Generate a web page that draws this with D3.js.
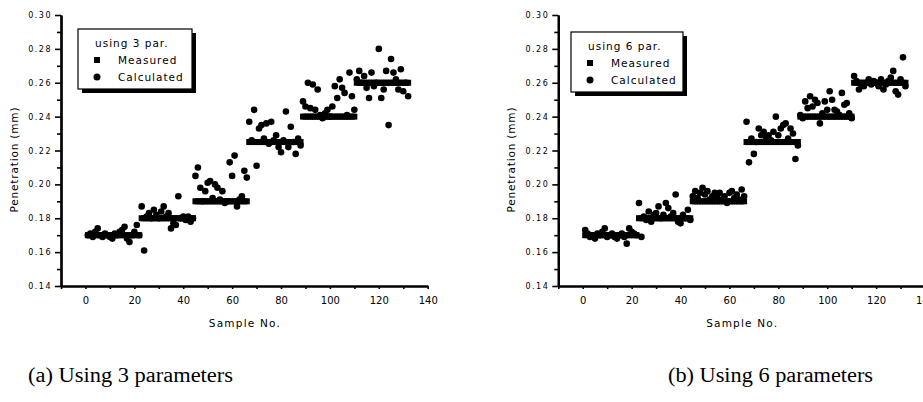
<!DOCTYPE html>
<html>
<head>
<meta charset="utf-8">
<script src="https://cdn.jsdelivr.net/npm/d3@7"></script>
<style>
body { margin: 0; background: #fff; }
</style>
</head>
<body>
<script>
// measured penetration, 6 blocks of 22 samples
var measured = [
	0.17,0.17,0.17,0.17,0.17,0.17,0.17,0.17,0.17,0.17,0.17,0.17,0.17,0.17,0.17,0.17,0.17,0.17,0.17,0.17,0.17,0.17,
	0.18,0.18,0.18,0.18,0.18,0.18,0.18,0.18,0.18,0.18,0.18,0.18,0.18,0.18,0.18,0.18,0.18,0.18,0.18,0.18,0.18,0.18,
	0.19,0.19,0.19,0.19,0.19,0.19,0.19,0.19,0.19,0.19,0.19,0.19,0.19,0.19,0.19,0.19,0.19,0.19,0.19,0.19,0.19,0.19,
	0.225,0.225,0.225,0.225,0.225,0.225,0.225,0.225,0.225,0.225,0.225,0.225,0.225,0.225,0.225,0.225,0.225,0.225,0.225,0.225,0.225,0.225,
	0.24,0.24,0.24,0.24,0.24,0.24,0.24,0.24,0.24,0.24,0.24,0.24,0.24,0.24,0.24,0.24,0.24,0.24,0.24,0.24,0.24,0.24,
	0.26,0.26,0.26,0.26,0.26,0.26,0.26,0.26,0.26,0.26,0.26,0.26,0.26,0.26,0.26,0.26,0.26,0.26,0.26,0.26,0.26,0.26
];

// calculated, 3 parameters
var calc3 = [
	0.170,0.171,0.169,0.172,0.174,0.170,0.169,0.171,0.170,0.169,0.168,0.171,0.170,0.172,0.173,0.175,0.168,0.166,0.170,0.172,0.176,0.170,
	0.187,0.161,0.181,0.183,0.180,0.185,0.182,0.180,0.184,0.187,0.181,0.183,0.174,0.177,0.176,0.193,0.180,0.181,0.179,0.181,0.178,0.180,
	0.205,0.210,0.198,0.190,0.196,0.201,0.202,0.192,0.200,0.198,0.191,0.196,0.189,0.190,0.213,0.205,0.217,0.187,0.191,0.193,0.208,0.204,
	0.237,0.226,0.244,0.211,0.233,0.235,0.227,0.236,0.224,0.237,0.226,0.229,0.222,0.219,0.226,0.243,0.222,0.234,0.225,0.218,0.227,0.223,
	0.249,0.246,0.260,0.245,0.259,0.244,0.256,0.241,0.239,0.242,0.244,0.240,0.246,0.258,0.251,0.262,0.257,0.254,0.241,0.266,0.252,0.244,
	0.262,0.267,0.260,0.264,0.257,0.251,0.266,0.258,0.260,0.280,0.251,0.256,0.267,0.235,0.274,0.266,0.262,0.256,0.268,0.255,0.260,0.252
];

// calculated, 6 parameters
var calc6 = [
	0.173,0.171,0.169,0.170,0.168,0.171,0.170,0.172,0.174,0.169,0.170,0.171,0.169,0.168,0.170,0.171,0.169,0.165,0.174,0.172,0.171,0.170,
	0.189,0.169,0.181,0.179,0.184,0.178,0.182,0.183,0.187,0.180,0.182,0.189,0.186,0.181,0.183,0.194,0.178,0.177,0.182,0.180,0.185,0.179,
	0.193,0.196,0.192,0.195,0.198,0.194,0.196,0.191,0.193,0.195,0.192,0.195,0.191,0.193,0.189,0.195,0.196,0.192,0.194,0.191,0.197,0.193,
	0.237,0.213,0.227,0.218,0.225,0.233,0.229,0.231,0.228,0.229,0.226,0.231,0.240,0.229,0.233,0.235,0.236,0.227,0.233,0.230,0.215,0.223,
	0.241,0.239,0.249,0.245,0.252,0.246,0.250,0.248,0.236,0.242,0.249,0.244,0.255,0.250,0.244,0.243,0.241,0.254,0.247,0.248,0.242,0.239,
	0.264,0.261,0.256,0.259,0.258,0.260,0.262,0.259,0.261,0.260,0.258,0.262,0.256,0.259,0.261,0.263,0.267,0.255,0.253,0.262,0.275,0.258
];

var xTicks = [0, 20, 40, 60, 80, 100, 120, 140];
var xMinor = [-10, 10, 30, 50, 70, 90, 110, 130];
var yTicks = [0.14, 0.16, 0.18, 0.20, 0.22, 0.24, 0.26, 0.28, 0.30];
var yMinor = [0.15, 0.17, 0.19, 0.21, 0.23, 0.25, 0.27, 0.29];
var legendNames = ["Measured", "Calculated"];
var captions = ["(a) Using 3 parameters", "(b) Using 6 parameters"];

var svg = d3.select("body").append("svg")
	.attr("width", 923)
	.attr("height", 402)
	.style("font-family", "'DejaVu Sans', sans-serif");

function drawPanel(p)
{
	var g = svg.append("g");

	var x = d3.scaleLinear().domain([-10, 140]).range([p.left, p.right]);
	var y = d3.scaleLinear().domain([0.14, 0.30]).range([286, 15]);

	// minor ticks first, then major axes with labels
	g.append("g")
		.attr("transform", "translate(" + p.left + ",0)")
		.call(d3.axisLeft(y).tickValues(yMinor).tickSize(4).tickSizeOuter(0).tickFormat(""));
	g.append("g")
		.attr("transform", "translate(0,286)")
		.call(d3.axisBottom(x).tickValues(xMinor).tickSize(3).tickSizeOuter(0).tickFormat(""));

	var yAxis = g.append("g")
		.attr("transform", "translate(" + p.left + ",0)")
		.call(d3.axisLeft(y).tickValues(yTicks).tickSize(6).tickSizeOuter(0).tickPadding(3).tickFormat(d3.format(".2f")));
	yAxis.selectAll("text")
		.style("font-size", "8px")
		.style("letter-spacing", "1.5px")
		.style("font-family", "'DejaVu Sans', sans-serif");

	var xAxis = g.append("g")
		.attr("transform", "translate(0,286)")
		.call(d3.axisBottom(x).tickValues(xTicks).tickSize(3).tickSizeOuter(0).tickPadding(8));
	xAxis.selectAll("text")
		.style("font-size", "10px")
		.style("font-family", "'DejaVu Sans', sans-serif");

	g.selectAll(".domain").attr("stroke-width", 2.2);
	g.selectAll(".tick line").attr("stroke-width", 1.6);

	// axis titles
	g.append("text")
		.attr("transform", "translate(" + p.yLabelX + ",160) rotate(-90)")
		.attr("text-anchor", "middle")
		.attr("textLength", 105)
		.attr("lengthAdjust", "spacing")
		.style("font-size", "10.5px")
		.text("Penetration (mm)");
	g.append("text")
		.attr("x", (p.left + p.right) / 2)
		.attr("y", 327)
		.attr("text-anchor", "middle")
		.attr("textLength", 71)
		.attr("lengthAdjust", "spacing")
		.style("font-size", "10.5px")
		.text("Sample No.");

	// measured squares
	g.selectAll(".meas")
		.data(measured)
		.enter().append("rect")
		.attr("class", "meas")
		.attr("x", function(d,i){ return x(i + 1) - 3; })
		.attr("y", function(d){ return y(d) - 3; })
		.attr("width", 6)
		.attr("height", 6)
		.attr("fill", "#000");

	// calculated circles
	g.selectAll(".calc")
		.data(p.calc)
		.enter().append("circle")
		.attr("class", "calc")
		.attr("cx", function(d,i){ return x(i + 1); })
		.attr("cy", function(d){ return y(d); })
		.attr("r", 3.3)
		.attr("fill", "#000");

	// legend with drop shadow
	var lg = g.append("g").attr("transform", "translate(" + p.legX + "," + p.legY + ")");
	lg.append("rect")
		.attr("x", 4).attr("y", 4)
		.attr("width", p.legW).attr("height", 60)
		.attr("fill", "#000");
	lg.append("rect")
		.attr("x", 0).attr("y", 0)
		.attr("width", p.legW).attr("height", 60)
		.attr("fill", "#fff")
		.attr("stroke", "#000")
		.attr("stroke-width", 1.2);
	lg.append("text")
		.attr("x", 17).attr("y", 18)
		.style("font-size", "10.5px")
		.style("letter-spacing", "1px")
		.text(p.title);
	lg.append("rect")
		.attr("x", 16).attr("y", 28)
		.attr("width", 6).attr("height", 6);
	lg.append("circle")
		.attr("cx", 19).attr("cy", 48).attr("r", 3.5);
	lg.selectAll(".legtxt")
		.data(legendNames)
		.enter().append("text")
		.attr("class", "legtxt")
		.attr("x", 40)
		.attr("y", function(d,i){ return 35 + 17 * i; })
		.style("font-size", "10.5px")
		.style("letter-spacing", "1px")
		.text(function(d){ return d; });

	svg.append("text")
		.attr("x", p.capX)
		.attr("y", 382)
		.attr("textLength", 205)
		.attr("lengthAdjust", "spacingAndGlyphs")
		.style("font-family", "'Liberation Serif', 'Times New Roman', serif")
		.style("font-size", "20px")
		.text(p.caption);
}

drawPanel({left: 61, right: 427.7, yLabelX: 18, calc: calc3, title: "using 3 par.",
	legX: 78, legY: 29, legW: 114, capX: 28, caption: captions[0]});
drawPanel({left: 558.3, right: 925, yLabelX: 515, calc: calc6, title: "using 6 par.",
	legX: 571, legY: 32, legW: 112, capX: 668, caption: captions[1]});
</script>
</body>
</html>
